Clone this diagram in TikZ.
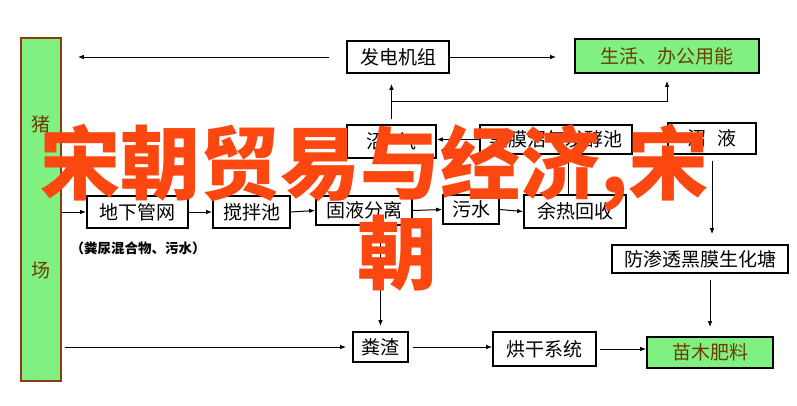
\documentclass[tikz,border=0pt]{standalone}
\usepackage{fontspec}
\setmainfont{Noto Sans CJK SC}
\usetikzlibrary{arrows.meta,calc}
\definecolor{boxgreen}{RGB}{128,240,128}
\definecolor{barbrown}{RGB}{140,60,20}
\definecolor{txtbrown}{RGB}{110,60,0}
\definecolor{wmred}{RGB}{252,72,16}
\begin{document}
\begin{tikzpicture}[x=1pt,y=-1pt,
    box/.style={draw,line width=1.6pt,inner sep=0pt,font=\fontsize{19}{19}\selectfont},
    gbox/.style={box,fill=boxgreen,text=txtbrown},
    flow/.style={->,line width=1pt},
    wm/.style={text=wmred,inner sep=0pt,font=\fontsize{80}{80}\selectfont\bfseries},
    >={Latex[length=6pt,width=4.5pt]}]
  \useasboundingbox (0,0) rectangle (797,405);
  \def\blk#1#2#3#4#5{
    \node[box,minimum width=#3pt,minimum height=#4pt] (#1) at #2 {#5};
  }
  \node[draw=barbrown,fill=boxgreen,line width=1.6pt,minimum width=40pt,minimum height=343pt] (zc) at (41,209.5) {};
  \node[text=txtbrown,font=\fontsize{19}{19}\selectfont] (zhu) at (41,124) {猪};
  \node[text=txtbrown,font=\fontsize{19}{19}\selectfont] (chang) at (41,270) {场};
  \blk{fd}{(398,57)}{102}{32}{发电机组}
  \node[gbox,minimum width=184pt,minimum height=34pt] (sh) at (667,56) {生活、办公用能};
  \blk{zq}{(391.5,141.5)}{89}{33}{沼\hspace{.6em}气}
  \blk{hm}{(556,139.5)}{152}{29}{黑膜沼气发酵池}
  \blk{zy}{(712,138.5)}{88}{31}{沼\hspace{.6em}液}
  \blk{dx}{(137.5,212)}{101}{32}{地下管网}
  \blk{jb}{(251.5,212)}{77}{32}{搅拌池}
  \blk{gy}{(364,210.5)}{96}{29}{固液分离}
  \blk{ws}{(471,209.5)}{56}{29}{污水}
  \blk{yr}{(575,211.5)}{102}{33}{余热回收}
  \blk{ft}{(700,259)}{176}{28}{防渗透黑膜生化塘}
  \blk{fz}{(380.5,347)}{55}{30}{粪渣}
  \blk{hg}{(544.5,349)}{103}{34}{烘干系统}
  \node[gbox,minimum width=126pt,minimum height=31pt] (mm) at (710,352.5) {苗木肥料};
  \node[font=\fontsize{13.5}{14}\selectfont\bfseries] (note) at (138,248) {（粪尿混合物、污水）};
  \draw[flow,shorten <=17pt,shorten >=16pt] (fd.west) -- (fd.west -| zc.east);
  \draw[flow,shorten >=18pt] (fd.east) -- (fd.east -| sh.west);
  \draw[flow,shorten <=5pt,shorten >=10pt] (zq.north) -- (zq.north |- fd.south);
  \coordinate (fork) at ($(zq.north)+(0,-23)$);
  \draw[flow,shorten >=7pt] (fork) -| (sh.south);
  \draw[flow] (hm.west) -- (hm.west -| zq.east);
  \draw[flow] (hm.east) -- (hm.east -| zy.west);
  \draw[flow,shorten <=6pt,shorten >=10pt] (zy.south) -- (zy.south |- ft.north);
  \draw[flow,shorten <=6pt,shorten >=9pt] (mm.north |- ft.south) -- (mm.north);
  \draw[flow] (zc.east |- dx.west) -- (dx.west);
  \draw[flow] (dx.east) -- (jb.west);
  \draw[flow] (jb.east) -- (gy.west);
  \draw[flow] (gy.east) -- (ws.west);
  \draw[flow] (ws.east) -- (yr.west);
  \coordinate (yrup) at ($(yr.north)+(-7,0)$);
  \draw[flow] (yrup) -- (yrup |- hm.south);
  \draw[flow,shorten >=5pt] (gy.south -| fz.north) -- (fz.north);
  \draw[flow,shorten <=3pt,shorten >=6pt] (zc.east |- fz.west) -- (fz.west);
  \draw[flow,shorten <=4pt] (fz.east) -- (fz.east -| hg.west);
  \draw[flow,shorten <=3pt] (hg.east) -- (hg.east -| mm.west);
  \node[wm,anchor=west] (wm1) at (40,168) {宋朝贸易与经济,宋};
  \node[wm] (wm2) at (397,253) {朝};
\end{tikzpicture}
\end{document}
